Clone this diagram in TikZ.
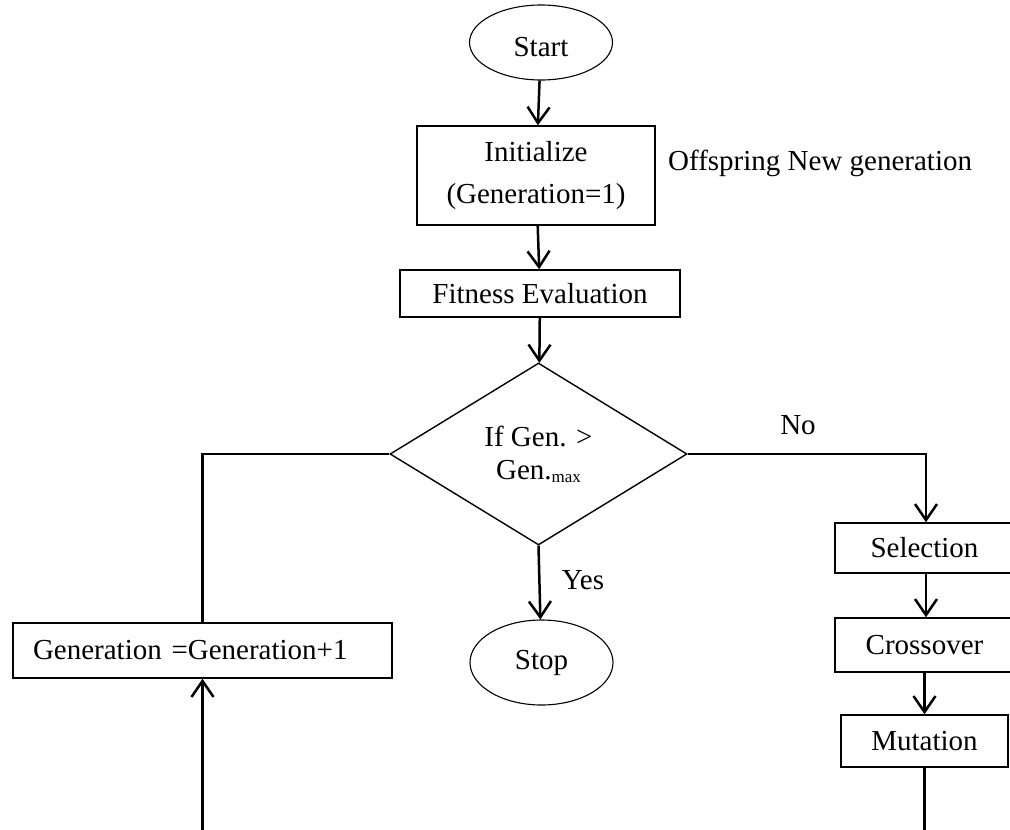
\documentclass[tikz,border=0pt]{standalone}
\usepackage{fontspec}
\setmainfont{Liberation Serif}
\usetikzlibrary{shapes.geometric,arrows.meta}
\begin{document}
\begin{tikzpicture}[x=1pt,y=-1pt,
  every node/.style={font=\fontsize{29}{40}\selectfont},
  box/.style={draw, line width=1.5pt, inner sep=0pt, align=center},
  term/.style={draw, ellipse, line width=1.1pt, inner sep=0pt},
  flow/.style={line width=2.5pt},
  arr/.style={flow, -{Straight Barb[length=16pt,width=22pt]}},
  lbl/.style={inner sep=0pt}]
\useasboundingbox (0,0) rectangle (1010,830);
\clip (0,0) rectangle (1010,830);

% main column
\node[term, minimum width=143pt, minimum height=75pt, text height=29pt] (start) at (541,42.5) {Start};
\node[box, minimum width=238pt, minimum height=99pt, font=\fontsize{29}{42}\selectfont] (init) at (536,175.5) {Initialize\\(Generation=1)};
\node[box, minimum width=280pt, minimum height=47pt] (fit) at (540,293.5) {Fitness Evaluation};
\node[draw, diamond, line width=1.4pt, inner sep=0pt, minimum width=297pt, minimum height=182pt,
      shape aspect=1.63, align=center, font=\fontsize{29}{33}\selectfont] (dec) at (538.5,454)
      {If Gen. >\\Gen.\raisebox{-3pt}{\fontsize{17}{17}\selectfont max}};
\node[term, minimum width=143pt, minimum height=85pt] (stop) at (541.5,662.5) {Stop};

% loop-back box on the left
\node[box, minimum width=379pt, minimum height=55pt, text width=339pt, inner xsep=20pt, align=left] (gen) at (202.5,650.5) {Generation =Generation+1};

% operator column on the right
\node[box, minimum width=179pt, minimum height=50pt] (sel) at (924.5,548) {Selection};
\node[box, minimum width=179pt, minimum height=54pt] (cro) at (924.5,645) {Crossover};
\node[box, minimum width=167pt, minimum height=52pt] (mut) at (924.5,741) {Mutation};

% labels
\node[lbl, anchor=west] (offs) at (668,163) {Offspring New generation};
\node[lbl] (no) at (798,425) {No};
\node[lbl] (yes) at (583,580) {Yes};

% routing points
\coordinate (lcorner) at (dec.west -| gen.north);
\coordinate (rcorner) at (926,454);
\coordinate (lbottom) at (gen.south |- 0,830);
\coordinate (rbottom) at (mut.south |- 0,830);

% connectors
\draw[arr] (start) -- (init);
\draw[arr] (init) -- (fit);
\draw[arr] (fit) -- (dec);
\draw[arr] (dec.south) -- (stop);
\draw[flow] (dec.west) -- (lcorner) -- (gen.north);
\draw[arr] (dec.east) -- (rcorner) -- (rcorner |- sel.north);
\draw[arr] (sel.south -| rcorner) -- (cro.north -| rcorner);
\draw[arr] (cro) -- (mut);
\draw[flow] (mut.south) -- (rbottom);
\draw[arr] (lbottom) -- (gen.south);
\end{tikzpicture}
\end{document}
